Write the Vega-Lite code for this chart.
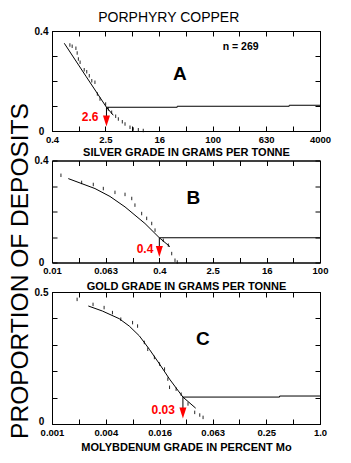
{
  "$schema": "https://vega.github.io/schema/vega-lite/v6.json",
  "padding": {"left": 6, "top": 11, "right": 5, "bottom": 5},
  "title": {"text": "PORPHYRY COPPER", "fontSize": 14, "fontWeight": "normal", "font": "Liberation Sans", "color": "black", "anchor": "middle", "offset": 0.5},
  "bounds": "flush",
  "spacing": 29.5,
  "datasets": {
    "dots": [
      {"panel": "A", "x": 0.74, "y": 0.344}, {"panel": "A", "x": 0.80, "y": 0.339}, {"panel": "A", "x": 0.91, "y": 0.331},
      {"panel": "A", "x": 0.95, "y": 0.312}, {"panel": "A", "x": 0.99, "y": 0.288}, {"panel": "A", "x": 1.05, "y": 0.275},
      {"panel": "A", "x": 1.21, "y": 0.245}, {"panel": "A", "x": 1.32, "y": 0.237}, {"panel": "A", "x": 1.44, "y": 0.221},
      {"panel": "A", "x": 1.57, "y": 0.201}, {"panel": "A", "x": 1.75, "y": 0.195}, {"panel": "A", "x": 1.90, "y": 0.148},
      {"panel": "A", "x": 2.08, "y": 0.128}, {"panel": "A", "x": 2.53, "y": 0.108}, {"panel": "A", "x": 2.77, "y": 0.088},
      {"panel": "A", "x": 3.11, "y": 0.075}, {"panel": "A", "x": 3.57, "y": 0.059}, {"panel": "A", "x": 3.91, "y": 0.048},
      {"panel": "A", "x": 4.48, "y": 0.037}, {"panel": "A", "x": 4.92, "y": 0.028}, {"panel": "A", "x": 5.84, "y": 0.015},
      {"panel": "A", "x": 6.54, "y": 0.008}, {"panel": "A", "x": 7.77, "y": 0.005}, {"panel": "A", "x": 9.2, "y": 0.002},
      {"panel": "B", "x": 0.0136, "y": 0.342}, {"panel": "B", "x": 0.0277, "y": 0.314}, {"panel": "B", "x": 0.0413, "y": 0.306},
      {"panel": "B", "x": 0.0583, "y": 0.290}, {"panel": "B", "x": 0.0871, "y": 0.275}, {"panel": "B", "x": 0.123, "y": 0.267},
      {"panel": "B", "x": 0.155, "y": 0.251}, {"panel": "B", "x": 0.173, "y": 0.225}, {"panel": "B", "x": 0.218, "y": 0.192},
      {"panel": "B", "x": 0.259, "y": 0.173}, {"panel": "B", "x": 0.308, "y": 0.153}, {"panel": "B", "x": 0.345, "y": 0.127},
      {"panel": "B", "x": 0.458, "y": 0.087}, {"panel": "B", "x": 0.544, "y": 0.068}, {"panel": "B", "x": 0.612, "y": 0.035},
      {"panel": "B", "x": 0.685, "y": 0.009}, {"panel": "B", "x": 0.74, "y": 0.002},
      {"panel": "C", "x": 0.00191, "y": 0.472}, {"panel": "C", "x": 0.00288, "y": 0.453}, {"panel": "C", "x": 0.00383, "y": 0.441},
      {"panel": "C", "x": 0.00475, "y": 0.422}, {"panel": "C", "x": 0.00589, "y": 0.397}, {"panel": "C", "x": 0.00798, "y": 0.384},
      {"panel": "C", "x": 0.00908, "y": 0.371}, {"panel": "C", "x": 0.0108, "y": 0.309}, {"panel": "C", "x": 0.0118, "y": 0.283},
      {"panel": "C", "x": 0.0140, "y": 0.252}, {"panel": "C", "x": 0.0160, "y": 0.227}, {"panel": "C", "x": 0.0182, "y": 0.208},
      {"panel": "C", "x": 0.0198, "y": 0.170}, {"panel": "C", "x": 0.0207, "y": 0.139}, {"panel": "C", "x": 0.0245, "y": 0.132},
      {"panel": "C", "x": 0.0279, "y": 0.113}, {"panel": "C", "x": 0.0333, "y": 0.076}, {"panel": "C", "x": 0.0396, "y": 0.044},
      {"panel": "C", "x": 0.0451, "y": 0.034}, {"panel": "C", "x": 0.0491, "y": 0.025}
    ],
    "fit": [
      {"panel": "A", "x": 0.61, "y": 0.351}, {"panel": "A", "x": 1.3, "y": 0.217}, {"panel": "A", "x": 2.6, "y": 0.095}, {"panel": "A", "x": 3.29, "y": 0.063},
      {"panel": "B", "x": 0.0175, "y": 0.329}, {"panel": "B", "x": 0.0438, "y": 0.290}, {"panel": "B", "x": 0.0734, "y": 0.259},
      {"panel": "B", "x": 0.123, "y": 0.218}, {"panel": "B", "x": 0.244, "y": 0.153}, {"panel": "B", "x": 0.4, "y": 0.097}, {"panel": "B", "x": 0.577, "y": 0.062},
      {"panel": "C", "x": 0.00255, "y": 0.447}, {"panel": "C", "x": 0.00366, "y": 0.428}, {"panel": "C", "x": 0.00565, "y": 0.399},
      {"panel": "C", "x": 0.00732, "y": 0.371}, {"panel": "C", "x": 0.00949, "y": 0.334}, {"panel": "C", "x": 0.0123, "y": 0.283},
      {"panel": "C", "x": 0.0160, "y": 0.227}, {"panel": "C", "x": 0.0207, "y": 0.170}, {"panel": "C", "x": 0.0292, "y": 0.102}, {"panel": "C", "x": 0.0406, "y": 0.060}
    ],
    "tail": [
      {"panel": "A", "x": 2.6, "y": 0.095}, {"panel": "A", "x": 29.6, "y": 0.099}, {"panel": "A", "x": 1390, "y": 0.103}, {"panel": "A", "x": 4000, "y": 0.103},
      {"panel": "B", "x": 0.4, "y": 0.097}, {"panel": "B", "x": 100, "y": 0.097},
      {"panel": "C", "x": 0.0292, "y": 0.102}, {"panel": "C", "x": 0.353, "y": 0.106}, {"panel": "C", "x": 1, "y": 0.106}
    ],
    "marker": [
      {"panel": "A", "x": 2.6, "top": 0.095, "y": 0.040, "label": "2.6"},
      {"panel": "B", "x": 0.4, "top": 0.097, "y": 0.043, "label": "0.4"},
      {"panel": "C", "x": 0.0292, "top": 0.102, "y": 0.042, "label": "0.03"}
    ],
    "notes": [
      {"panel": "A", "kind": "letter", "x": 32.5, "y": 0.228, "text": "A"},
      {"panel": "A", "kind": "n", "x": 262, "y": 0.335, "text": "n = 269"},
      {"panel": "B", "kind": "letter", "x": 1.285, "y": 0.254, "text": "B"},
      {"panel": "C", "kind": "letter", "x": 0.0487, "y": 0.321, "text": "C"}
    ]
  },
  "vconcat": [
    {
      "width": 268, "height": 100,
      "resolve": {"axis": {"x": "independent", "y": "independent"}},
      "layer": [
        {"data": {"name": "dots"}, "transform": [{"filter": "datum.panel === 'A'"}],
         "mark": {"type": "point", "shape": "M0,-1L0,1", "filled": false, "color": "black", "strokeWidth": 1, "size": 12, "opacity": 0.85},
         "encoding": {
           "x": {"field": "x", "type": "quantitative", "scale": {"type": "log", "domain": [0.4, 4000], "nice": false},
                 "axis": {"orient": "bottom", "values": [0.4, 1, 2.5, 6.3, 16, 40, 100, 250, 630, 1600, 4000],
                          "labelExpr": "indexof([0.4,2.5,16,100,630,4000], datum.value) >= 0 ? '' + datum.value : ''",
                          "title": "SILVER GRADE IN GRAMS PER TONNE", "titlePadding": 3}},
           "y": {"field": "y", "type": "quantitative", "scale": {"domain": [0, 0.4], "nice": false},
                 "axis": {"orient": "left", "values": [0, 0.1, 0.2, 0.3, 0.4], "labelExpr": "datum.value === 0 ? '0' : datum.value === 0.4 ? '0.4' : ''", "title": null}}
         }},
        {"data": {"name": "fit"}, "transform": [{"filter": "datum.panel === 'A'"}],
         "mark": {"type": "line", "color": "black", "strokeWidth": 1},
         "encoding": {
           "x": {"field": "x", "type": "quantitative", "scale": {"type": "log", "domain": [0.4, 4000], "nice": false},
                 "axis": {"orient": "top", "values": [0.4, 1, 2.5, 6.3, 16, 40, 100, 250, 630, 1600, 4000], "labels": false, "title": null}},
           "y": {"field": "y", "type": "quantitative", "scale": {"domain": [0, 0.4], "nice": false},
                 "axis": {"orient": "right", "values": [0, 0.1, 0.2, 0.3, 0.4], "labels": false, "title": null}}
         }},
        {"data": {"name": "tail"}, "transform": [{"filter": "datum.panel === 'A'"}],
         "mark": {"type": "line", "color": "black", "strokeWidth": 1, "interpolate": "step-after"},
         "encoding": {
           "x": {"field": "x", "type": "quantitative", "axis": null},
           "y": {"field": "y", "type": "quantitative", "axis": null}
         }},
        {"data": {"name": "marker"}, "transform": [{"filter": "datum.panel === 'A'"}],
         "mark": {"type": "rule", "color": "black", "strokeWidth": 1},
         "encoding": {
           "x": {"field": "x", "type": "quantitative", "axis": null},
           "y": {"field": "top", "type": "quantitative", "axis": null},
           "y2": {"field": "y"}
         }},
        {"data": {"name": "marker"}, "transform": [{"filter": "datum.panel === 'A'"}],
         "mark": {"type": "point", "shape": "M-0.64,-1L0.64,-1L0,1Z", "filled": true, "color": "#ff0000", "size": 121, "opacity": 1},
         "encoding": {
           "x": {"field": "x", "type": "quantitative", "axis": null},
           "y": {"field": "y", "type": "quantitative", "axis": null}
         }},
        {"data": {"name": "marker"}, "transform": [{"filter": "datum.panel === 'A'"}],
         "mark": {"type": "text", "color": "#ff0000", "font": "Liberation Sans", "fontWeight": "bold", "fontSize": 12, "align": "right", "baseline": "middle", "dx": -8, "dy": -4},
         "encoding": {
           "x": {"field": "x", "type": "quantitative", "axis": null},
           "y": {"field": "y", "type": "quantitative", "axis": null},
           "text": {"field": "label"}
         }},
        {"data": {"name": "notes"}, "transform": [{"filter": "datum.panel === 'A' && datum.kind === 'letter'"}],
         "mark": {"type": "text", "color": "black", "font": "Liberation Sans", "fontWeight": "bold", "fontSize": 19, "align": "center", "baseline": "middle"},
         "encoding": {
           "x": {"field": "x", "type": "quantitative", "axis": null},
           "y": {"field": "y", "type": "quantitative", "axis": null},
           "text": {"field": "text"}
         }},
        {"data": {"name": "notes"}, "transform": [{"filter": "datum.panel === 'A' && datum.kind === 'n'"}],
         "mark": {"type": "text", "color": "black", "font": "Liberation Sans", "fontWeight": "bold", "fontSize": 10.5, "align": "center", "baseline": "middle"},
         "encoding": {
           "x": {"field": "x", "type": "quantitative", "axis": null},
           "y": {"field": "y", "type": "quantitative", "axis": null},
           "text": {"field": "text"}
         }}
      ]
    },
    {
      "width": 268, "height": 102,
      "resolve": {"axis": {"x": "independent", "y": "independent"}},
      "layer": [
        {"data": {"name": "dots"}, "transform": [{"filter": "datum.panel === 'B'"}],
         "mark": {"type": "point", "shape": "M0,-1L0,1", "filled": false, "color": "black", "strokeWidth": 1, "size": 12, "opacity": 0.85},
         "encoding": {
           "x": {"field": "x", "type": "quantitative", "scale": {"type": "log", "domain": [0.01, 100], "nice": false},
                 "axis": {"orient": "bottom", "values": [0.01, 0.025, 0.063, 0.16, 0.4, 1, 2.5, 6.3, 16, 40, 100],
                          "labelExpr": "indexof([0.01,0.063,0.4,2.5,16,100], datum.value) >= 0 ? '' + datum.value : ''",
                          "title": "GOLD GRADE IN GRAMS PER TONNE"}},
           "y": {"field": "y", "type": "quantitative", "scale": {"domain": [0, 0.4], "nice": false},
                 "axis": {"orient": "left", "values": [0, 0.1, 0.2, 0.3, 0.4], "labelExpr": "datum.value === 0 ? '0' : datum.value === 0.4 ? '0.4' : ''",
                          "title": "PROPORTION OF DEPOSITS", "titleFontSize": 24.5, "titleFontWeight": "normal", "titleX": -25, "titleY": 110, "titleBaseline": "alphabetic", "titleAlign": "center", "titleAngle": 270}}
         }},
        {"data": {"name": "fit"}, "transform": [{"filter": "datum.panel === 'B'"}],
         "mark": {"type": "line", "color": "black", "strokeWidth": 1},
         "encoding": {
           "x": {"field": "x", "type": "quantitative", "scale": {"type": "log", "domain": [0.01, 100], "nice": false},
                 "axis": {"orient": "top", "values": [0.01, 0.025, 0.063, 0.16, 0.4, 1, 2.5, 6.3, 16, 40, 100], "labels": false, "title": null}},
           "y": {"field": "y", "type": "quantitative", "scale": {"domain": [0, 0.4], "nice": false},
                 "axis": {"orient": "right", "values": [0, 0.1, 0.2, 0.3, 0.4], "labels": false, "title": null}}
         }},
        {"data": {"name": "tail"}, "transform": [{"filter": "datum.panel === 'B'"}],
         "mark": {"type": "line", "color": "black", "strokeWidth": 1, "interpolate": "step-after"},
         "encoding": {
           "x": {"field": "x", "type": "quantitative", "axis": null},
           "y": {"field": "y", "type": "quantitative", "axis": null}
         }},
        {"data": {"name": "marker"}, "transform": [{"filter": "datum.panel === 'B'"}],
         "mark": {"type": "rule", "color": "black", "strokeWidth": 1},
         "encoding": {
           "x": {"field": "x", "type": "quantitative", "axis": null},
           "y": {"field": "top", "type": "quantitative", "axis": null},
           "y2": {"field": "y"}
         }},
        {"data": {"name": "marker"}, "transform": [{"filter": "datum.panel === 'B'"}],
         "mark": {"type": "point", "shape": "M-0.64,-1L0.64,-1L0,1Z", "filled": true, "color": "#ff0000", "size": 121, "opacity": 1},
         "encoding": {
           "x": {"field": "x", "type": "quantitative", "axis": null},
           "y": {"field": "y", "type": "quantitative", "axis": null}
         }},
        {"data": {"name": "marker"}, "transform": [{"filter": "datum.panel === 'B'"}],
         "mark": {"type": "text", "color": "#ff0000", "font": "Liberation Sans", "fontWeight": "bold", "fontSize": 12, "align": "right", "baseline": "middle", "dx": -6, "dy": -3},
         "encoding": {
           "x": {"field": "x", "type": "quantitative", "axis": null},
           "y": {"field": "y", "type": "quantitative", "axis": null},
           "text": {"field": "label"}
         }},
        {"data": {"name": "notes"}, "transform": [{"filter": "datum.panel === 'B' && datum.kind === 'letter'"}],
         "mark": {"type": "text", "color": "black", "font": "Liberation Sans", "fontWeight": "bold", "fontSize": 19, "align": "center", "baseline": "middle"},
         "encoding": {
           "x": {"field": "x", "type": "quantitative", "axis": null},
           "y": {"field": "y", "type": "quantitative", "axis": null},
           "text": {"field": "text"}
         }}
      ]
    },
    {
      "width": 268, "height": 132,
      "resolve": {"axis": {"x": "independent", "y": "independent"}},
      "layer": [
        {"data": {"name": "dots"}, "transform": [{"filter": "datum.panel === 'C'"}],
         "mark": {"type": "point", "shape": "M0,-1L0,1", "filled": false, "color": "black", "strokeWidth": 1, "size": 12, "opacity": 0.85},
         "encoding": {
           "x": {"field": "x", "type": "quantitative", "scale": {"type": "log", "domain": [0.001, 1], "nice": false},
                 "axis": {"orient": "bottom", "values": [0.001, 0.002, 0.004, 0.008, 0.016, 0.0315, 0.063, 0.125, 0.25, 0.5, 1],
                          "labelExpr": "datum.value === 1 ? '1.0' : indexof([0.001,0.004,0.016,0.063,0.25], datum.value) >= 0 ? '' + datum.value : ''",
                          "title": "MOLYBDENUM GRADE IN PERCENT Mo"}},
           "y": {"field": "y", "type": "quantitative", "scale": {"domain": [0, 0.5], "nice": false},
                 "axis": {"orient": "left", "values": [0, 0.1, 0.2, 0.3, 0.4, 0.5], "labelExpr": "datum.value === 0 ? '0' : datum.value === 0.5 ? '0.5' : ''", "title": null,
                          "labelBaseline": {"condition": {"test": "datum.value === 0", "value": "alphabetic"}, "value": "middle"}}}
         }},
        {"data": {"name": "fit"}, "transform": [{"filter": "datum.panel === 'C'"}],
         "mark": {"type": "line", "color": "black", "strokeWidth": 1},
         "encoding": {
           "x": {"field": "x", "type": "quantitative", "scale": {"type": "log", "domain": [0.001, 1], "nice": false},
                 "axis": {"orient": "top", "values": [0.001, 0.002, 0.004, 0.008, 0.016, 0.0315, 0.063, 0.125, 0.25, 0.5, 1], "labels": false, "title": null}},
           "y": {"field": "y", "type": "quantitative", "scale": {"domain": [0, 0.5], "nice": false},
                 "axis": {"orient": "right", "values": [0, 0.1, 0.2, 0.3, 0.4, 0.5], "labels": false, "title": null}}
         }},
        {"data": {"name": "tail"}, "transform": [{"filter": "datum.panel === 'C'"}],
         "mark": {"type": "line", "color": "black", "strokeWidth": 1, "interpolate": "step-after"},
         "encoding": {
           "x": {"field": "x", "type": "quantitative", "axis": null},
           "y": {"field": "y", "type": "quantitative", "axis": null}
         }},
        {"data": {"name": "marker"}, "transform": [{"filter": "datum.panel === 'C'"}],
         "mark": {"type": "rule", "color": "black", "strokeWidth": 1},
         "encoding": {
           "x": {"field": "x", "type": "quantitative", "axis": null},
           "y": {"field": "top", "type": "quantitative", "axis": null},
           "y2": {"field": "y"}
         }},
        {"data": {"name": "marker"}, "transform": [{"filter": "datum.panel === 'C'"}],
         "mark": {"type": "point", "shape": "M-0.64,-1L0.64,-1L0,1Z", "filled": true, "color": "#ff0000", "size": 121, "opacity": 1},
         "encoding": {
           "x": {"field": "x", "type": "quantitative", "axis": null},
           "y": {"field": "y", "type": "quantitative", "axis": null}
         }},
        {"data": {"name": "marker"}, "transform": [{"filter": "datum.panel === 'C'"}],
         "mark": {"type": "text", "color": "#ff0000", "font": "Liberation Sans", "fontWeight": "bold", "fontSize": 12, "align": "right", "baseline": "middle", "dx": -8, "dy": -3},
         "encoding": {
           "x": {"field": "x", "type": "quantitative", "axis": null},
           "y": {"field": "y", "type": "quantitative", "axis": null},
           "text": {"field": "label"}
         }},
        {"data": {"name": "notes"}, "transform": [{"filter": "datum.panel === 'C' && datum.kind === 'letter'"}],
         "mark": {"type": "text", "color": "black", "font": "Liberation Sans", "fontWeight": "bold", "fontSize": 19, "align": "center", "baseline": "middle"},
         "encoding": {
           "x": {"field": "x", "type": "quantitative", "axis": null},
           "y": {"field": "y", "type": "quantitative", "axis": null},
           "text": {"field": "text"}
         }}
      ]
    }
  ],
  "config": {
    "font": "Liberation Sans",
    "background": "white",
    "view": {"stroke": "black", "strokeWidth": 1},
    "axis": {
      "grid": false, "domainColor": "black", "domainWidth": 1, "tickColor": "black", "tickWidth": 1, "tickSize": -5,
      "labelFont": "Liberation Sans", "labelFontWeight": "bold", "labelFontSize": 9.5, "labelColor": "black",
      "labelFlush": false, "labelOverlap": false, "labelPadding": 8,
      "titleFont": "Liberation Sans", "titleFontWeight": "bold", "titleFontSize": 11, "titleColor": "black", "titlePadding": 5
    },
    "axisY": {"labelFontSize": 10, "labelPadding": 16, "labelAlign": "center"}
  }
}
